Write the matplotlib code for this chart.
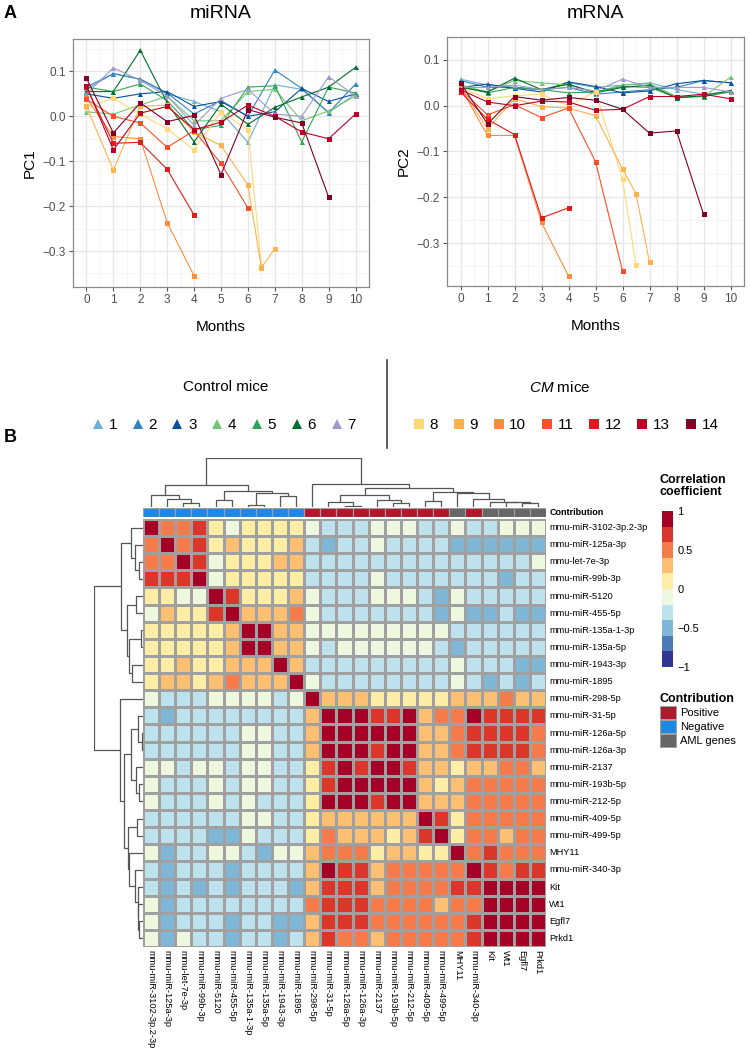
import numpy as np
import matplotlib
matplotlib.use('Agg')
from matplotlib import pyplot as plt
from matplotlib.colors import BoundaryNorm
from matplotlib.lines import Line2D
from matplotlib.patches import Patch

plt.rcParams['font.family'] = ['Liberation Sans', 'DejaVu Sans']
plt.rcParams['mathtext.fontset'] = 'custom'
plt.rcParams['mathtext.it'] = 'Liberation Sans:italic'
plt.rcParams['mathtext.rm'] = 'Liberation Sans'

W, H = 750, 1050  # figure size in px (dpi 100)

# ---------------- panel A data ----------------
mouse_ids = ['1', '2', '3', '4', '5', '6', '7', '8', '9', '10', '11', '12', '13', '14']
mouse_colors = ['#6BAED6', '#3182BD', '#08519C', '#74C476', '#31A354', '#006D2C', '#9E9AC8',
                '#FED976', '#FEB24C', '#FD8D3C', '#FC4E2A', '#E31A1C', '#BD0026', '#800026']
n_control = 7

m11 = [0, 1, 2, 3, 4, 5, 6, 7, 8, 9, 10]
mirna_months = [m11] * 7 + [
    [0, 1, 2, 3, 4, 5, 6, 6.5],
    [0, 1, 2, 3, 4, 5, 6, 6.5, 7],
    [0, 1, 2, 3, 4],
    [0, 1, 2, 3, 4, 5, 6],
    [0, 1, 2, 3, 4],
    m11,
    [0, 1, 2, 3, 4, 5, 6, 7, 8, 9],
]
mirna_pc1 = [
    [0.060, 0.095, 0.082, 0.050, 0.033, 0.010, -0.058, 0.070, 0.060, 0.008, 0.050],
    [0.065, 0.095, 0.083, 0.052, 0.005, 0.035, 0.000, 0.103, 0.062, 0.008, 0.072],
    [0.050, 0.040, 0.050, 0.055, 0.022, 0.033, 0.000, 0.010, 0.062, 0.033, 0.050],
    [0.010, 0.005, 0.025, 0.045, -0.010, -0.010, 0.055, 0.060, -0.010, 0.012, 0.045],
    [0.065, 0.055, 0.072, 0.035, -0.030, -0.020, 0.065, 0.068, -0.057, 0.065, 0.052],
    [0.055, 0.055, 0.147, 0.030, -0.057, 0.027, -0.018, 0.020, 0.043, 0.065, 0.109],
    [0.050, 0.108, 0.080, 0.045, -0.020, 0.040, 0.060, 0.005, 0.000, 0.088, 0.045],
    [0.020, 0.040, 0.005, -0.028, -0.075, 0.010, -0.030, -0.333],
    [0.022, -0.120, 0.022, 0.025, -0.035, -0.065, -0.153, -0.337, -0.295],
    [0.040, -0.045, -0.050, -0.237, -0.355],
    [0.038, 0.000, -0.015, -0.069, -0.032, -0.105, -0.204],
    [0.065, -0.060, -0.058, -0.118, -0.220],
    [0.068, -0.075, 0.007, 0.022, -0.030, -0.013, 0.025, 0.000, -0.035, -0.050, 0.005],
    [0.085, -0.037, 0.030, -0.012, 0.002, -0.130, 0.015, -0.002, -0.015, -0.180],
]
mrna_months = mirna_months
mrna_pc2 = [
    [0.058, 0.045, 0.040, 0.035, 0.050, 0.040, 0.045, 0.050, 0.035, 0.025, 0.030],
    [0.055, 0.040, 0.040, 0.035, 0.040, 0.025, 0.030, 0.035, 0.040, 0.055, 0.050],
    [0.040, 0.047, 0.038, 0.030, 0.052, 0.042, 0.028, 0.032, 0.048, 0.055, 0.050],
    [0.045, 0.030, 0.055, 0.050, 0.045, 0.030, 0.045, 0.048, 0.020, 0.020, 0.062],
    [0.042, 0.028, 0.040, 0.035, 0.028, 0.030, 0.042, 0.040, 0.018, 0.020, 0.030],
    [0.040, 0.030, 0.060, 0.035, 0.047, 0.028, 0.040, 0.045, 0.017, 0.022, 0.033],
    [0.040, 0.040, 0.045, 0.035, 0.040, 0.032, 0.058, 0.040, 0.040, 0.040, 0.030],
    [0.040, 0.015, 0.022, 0.025, 0.000, 0.030, -0.160, -0.348],
    [0.038, -0.050, 0.015, -0.002, -0.005, -0.022, -0.138, -0.192, -0.342],
    [0.040, -0.065, -0.065, -0.255, -0.372],
    [0.035, -0.020, 0.002, -0.026, -0.005, -0.122, -0.360],
    [0.030, -0.030, -0.063, -0.245, -0.223],
    [0.035, 0.008, 0.000, 0.010, 0.008, -0.010, -0.008, 0.020, 0.020, 0.025, 0.015],
    [0.050, -0.040, 0.020, 0.012, 0.018, 0.012, -0.008, -0.060, -0.055, -0.237],
]

# ---------------- panel B data ----------------
features = ['mmu-miR-3102-3p.2-3p', 'mmu-miR-125a-3p', 'mmu-let-7e-3p', 'mmu-miR-99b-3p',
            'mmu-miR-5120', 'mmu-miR-455-5p', 'mmu-miR-135a-1-3p', 'mmu-miR-135a-5p',
            'mmu-miR-1943-3p', 'mmu-miR-1895', 'mmu-miR-298-5p', 'mmu-miR-31-5p',
            'mmu-miR-126a-5p', 'mmu-miR-126a-3p', 'mmu-miR-2137', 'mmu-miR-193b-5p',
            'mmu-miR-212-5p', 'mmu-miR-409-5p', 'mmu-miR-499-5p', 'MHY11', 'mmu-miR-340-3p',
            'Kit', 'Wt1', 'Egfl7', 'Prkd1']
contribution = ['Negative'] * 10 + ['Positive'] * 9 + ['AML genes', 'Positive'] + ['AML genes'] * 4
contrib_colors = {'Positive': '#B2182B', 'Negative': '#1E88E5', 'AML genes': '#666666'}

corr = [
    [1.0, .5, .5, .7, .1, -.1, .1, .1, .1, .1, -.1, -.3, -.3, -.3, -.1, -.1, -.1, -.3, -.3, -.1, -.3, -.3, -.1, -.1, -.1],
    [.5, 1.0, .5, .7, .1, .3, .1, .1, .1, .3, -.3, -.5, -.3, -.3, -.1, -.3, -.3, -.3, -.3, -.5, -.5, -.5, -.5, -.5, -.5],
    [.5, .5, 1.0, .7, -.1, .1, .1, .1, .3, .3, -.3, -.3, -.3, -.3, -.3, -.3, -.3, -.3, -.3, -.3, -.3, -.3, -.3, -.3, -.1],
    [.7, .7, .7, 1.0, -.1, .1, .1, .1, .1, .1, -.3, -.3, -.3, -.3, -.1, -.3, -.3, -.3, -.3, -.3, -.3, -.3, -.5, -.3, -.3],
    [.1, .1, -.1, -.1, 1.0, .7, .1, .1, .1, .3, -.1, -.3, -.3, -.3, -.1, -.1, -.1, -.3, -.5, -.1, -.3, -.3, -.3, -.3, -.3],
    [-.1, .3, .1, .1, .7, 1.0, .3, .3, .3, .5, -.1, -.3, -.3, -.3, -.3, -.3, -.3, -.3, -.5, -.1, -.5, -.5, -.3, -.5, -.5],
    [.1, .1, .1, .1, .1, .3, 1.0, .9, .3, .3, -.1, -.1, -.1, -.1, -.1, -.1, -.1, -.1, -.1, -.3, -.3, -.3, -.3, -.3, -.3],
    [.1, .1, .1, .1, .1, .3, .9, 1.0, .3, .3, -.1, -.3, -.1, -.1, -.1, -.1, -.1, -.1, -.3, -.5, -.3, -.3, -.3, -.3, -.3],
    [.1, .1, .3, .1, .1, .3, .3, .3, 1.0, .3, -.3, -.3, -.3, -.3, -.3, -.3, -.3, -.3, -.3, -.1, -.3, -.3, -.3, -.5, -.5],
    [.1, .3, .3, .1, .3, .5, .3, .3, .3, 1.0, -.1, -.3, -.3, -.3, -.3, -.3, -.3, -.3, -.3, -.1, -.3, -.5, -.3, -.5, -.3],
    [-.1, -.3, -.3, -.3, -.1, -.1, -.1, -.1, -.3, -.1, 1.0, .3, .3, .3, .1, .1, .1, .1, .1, .3, .3, .3, .5, .3, .3],
    [-.3, -.5, -.3, -.3, -.3, -.3, -.3, -.3, -.3, -.3, .3, 1.0, .9, .9, .7, .7, .9, .3, .5, .5, .9, .7, .7, .7, .7],
    [-.3, -.3, -.3, -.3, -.3, -.3, -.1, -.1, -.3, -.3, .3, .9, 1.0, .9, .9, .9, .9, .3, .3, .5, .7, .7, .7, .7, .5],
    [-.3, -.3, -.3, -.3, -.3, -.3, -.1, -.1, -.3, -.3, .3, .9, .9, 1.0, .7, .9, .9, .3, .3, .5, .7, .7, .7, .7, .5],
    [-.1, -.1, -.3, -.1, -.1, -.3, -.1, -.1, -.3, -.3, .1, .7, .9, .7, 1.0, .9, .7, .3, .3, .1, .3, .3, .5, .5, .3],
    [-.1, -.3, -.3, -.3, -.1, -.3, -.1, -.1, -.3, -.3, .1, .7, .9, .9, .9, 1.0, .9, .3, .1, .3, .5, .5, .5, .5, .5],
    [-.1, -.3, -.3, -.3, -.1, -.3, -.1, -.3, -.3, -.3, .1, .9, .9, .9, .7, .9, 1.0, .3, .3, .3, .5, .5, .5, .5, .5],
    [-.3, -.3, -.3, -.3, -.3, -.3, -.1, -.1, -.3, -.3, .1, .3, .3, .3, .3, .3, .3, 1.0, .7, .1, .5, .5, .5, .5, .5],
    [-.3, -.3, -.3, -.3, -.5, -.5, -.1, -.3, -.3, -.3, .1, .5, .3, .3, .3, .1, .3, .7, 1.0, .1, .5, .5, .3, .5, .5],
    [-.1, -.5, -.3, -.3, -.1, -.1, -.3, -.5, -.1, -.1, .3, .5, .5, .5, .1, .3, .3, .1, .1, 1.0, .5, .7, .5, .5, .5],
    [-.3, -.5, -.3, -.3, -.3, -.5, -.3, -.3, -.3, -.3, .3, .9, .7, .7, .3, .5, .5, .5, .5, .5, 1.0, .7, .5, .7, .7],
    [-.3, -.5, -.3, -.5, -.3, -.5, -.3, -.3, -.3, -.5, .3, .7, .7, .7, .3, .5, .5, .5, .5, .7, .7, 1.0, .9, .9, .9],
    [-.1, -.5, -.3, -.3, -.3, -.3, -.3, -.3, -.3, -.3, .5, .7, .7, .7, .5, .5, .5, .5, .3, .5, .5, .9, 1.0, .9, .9],
    [-.1, -.5, -.3, -.3, -.3, -.5, -.3, -.3, -.5, -.5, .3, .7, .7, .7, .5, .5, .5, .5, .5, .5, .7, .9, .9, 1.0, .9],
    [-.1, -.5, -.1, -.3, -.3, -.5, -.3, -.3, -.5, -.3, .3, .7, .5, .5, .3, .5, .5, .5, .5, .5, .7, .9, .9, .9, 1.0],
]

# hierarchical clustering (same tree for rows and columns): (node a, node b, height)
# leaves are 0..24 in display order, merged nodes numbered from 25
merges = [
    (12, 13, 0.7), (6, 7, 1.7), (15, 16, 3.7), (23, 24, 3.7), (2, 3, 4.3),
    (11, 25, 4.7), (22, 28, 4.7), (21, 31, 5.3), (17, 18, 6.3), (4, 5, 7.0),
    (14, 27, 7.0), (1, 29, 8.0), (20, 32, 8.0), (8, 9, 11.3), (0, 36, 12.0),
    (30, 35, 12.0), (26, 38, 13.7), (19, 37, 13.7), (33, 42, 15.3), (34, 41, 16.3),
    (40, 43, 19.3), (39, 44, 22.0), (10, 45, 23.0), (46, 47, 48.7),
]


def box(x0, y0, x1, y1):
    # pixel box (origin top-left) -> figure rect
    return [x0 / W, 1 - y1 / H, (x1 - x0) / W, (y1 - y0) / H]


def pc_panel(rect, title, ylab, xs, ys):
    ax = fig.add_axes(rect)
    for i in range(len(ys)):
        mk = '^' if i < n_control else 's'
        ax.plot(xs[i], ys[i], color=mouse_colors[i], lw=0.8, marker=mk, ms=3.6, mew=0)
    allv = np.concatenate([np.array(v) for v in ys])
    lo, hi = allv.min(), allv.max()
    pad = 0.05 * (hi - lo)
    ax.set_ylim(lo - pad, hi + pad)
    ax.set_xlim(-0.5, 10.5)
    ax.set_xticks(range(11))
    ax.set_xticks(np.arange(0.5, 10, 1), minor=True)
    ax.set_yticks(np.arange(-0.3, 0.11, 0.1))
    ax.set_yticks(np.arange(-0.35, 0.16, 0.1), minor=True)
    ax.grid(which='major', color='#E6E6E6', lw=0.9)
    ax.grid(which='minor', color='#F2F2F2', lw=0.5)
    ax.set_axisbelow(True)
    for s in ax.spines.values():
        s.set_color('#8A8A8A')
        s.set_linewidth(0.9)
    ax.tick_params(which='major', length=3, color='#555555', labelcolor='#4D4D4D', labelsize=8.5, pad=2)
    ax.tick_params(which='minor', length=0)
    ax.set_xlabel('Months', fontsize=11, labelpad=10)
    ax.set_ylabel(ylab, fontsize=11, labelpad=4)
    pos = ax.get_position()
    fig.text(pos.x0 + pos.width / 2, 1 - 13 / H, title, ha='center', va='center', fontsize=14)
    return ax


def dendro_lines(n):
    pos = {i: (i + 0.5, 0.0) for i in range(n)}
    segs = []
    for k, (a, b, h) in enumerate(merges):
        xa, ha = pos[a]
        xb, hb = pos[b]
        segs.append(([xa, xa, xb, xb], [ha, h, h, hb]))
        pos[n + k] = ((xa + xb) / 2, h)
    return segs


fig = plt.figure(figsize=(W / 100, H / 100), dpi=100)

# ---------------- A ----------------
fig.text(4 / W, 1 - 13 / H, 'A', fontsize=13, fontweight='bold', va='center')
pc_panel(box(73, 39, 369, 287), 'miRNA', 'PC1', mirna_months, mirna_pc1)
pc_panel(box(447, 37, 744, 286), 'mRNA', 'PC2', mrna_months, mrna_pc2)

ctrl_h = [Line2D([], [], ls='none', marker='^', ms=7.5, color=c, mew=0) for c in mouse_colors[:n_control]]
cm_h = [Line2D([], [], ls='none', marker='s', ms=7.5, color=c, mew=0) for c in mouse_colors[n_control:]]
leg_kw = dict(ncol=7, loc='center', frameon=False, fontsize=11, handlelength=0.7,
              handletextpad=0.35, columnspacing=1.0, borderpad=0, borderaxespad=0)
fig.legend(ctrl_h, mouse_ids[:n_control], bbox_to_anchor=(224 / W, 1 - 425 / H), **leg_kw)
fig.legend(cm_h, mouse_ids[n_control:], bbox_to_anchor=(566 / W, 1 - 425 / H), **leg_kw)
fig.text(226 / W, 1 - 387 / H, 'Control mice', ha='center', va='center', fontsize=11)
fig.text(560 / W, 1 - 387 / H, r'$\mathit{CM}$ mice', ha='center', va='center', fontsize=11)
fig.add_artist(Line2D([387 / W, 387 / W], [1 - 360 / H, 1 - 448 / H], color='#444444', lw=1.2,
                      transform=fig.transFigure))

# ---------------- B ----------------
fig.text(4 / W, 1 - 438 / H, 'B', fontsize=13, fontweight='bold', va='center')
n = len(features)
cmap = matplotlib.colormaps['RdYlBu_r'].resampled(10)
cmap = cmap.with_extremes(over=cmap(9), under=cmap(0))
norm = BoundaryNorm(np.linspace(-1, 1, 11), 10)

hm = fig.add_axes(box(143, 519, 546, 947))
mesh = hm.pcolormesh(np.array(corr), cmap=cmap, norm=norm, edgecolors='#A0A0A0', linewidth=0.8)
hm.set_xlim(0, n)
hm.set_ylim(n, 0)
hm.axis('off')
for i, name in enumerate(features):
    hm.text(n + 0.2, i + 0.5, name, ha='left', va='center', fontsize=6.7, clip_on=False)
    hm.text(i + 0.5, n + 0.2, name, ha='center', va='top', rotation=270, fontsize=6.7, clip_on=False)

# contribution annotation bar
an = fig.add_axes(box(143, 508, 546, 517))
an.bar(np.arange(n), 1, width=1, align='edge', color=[contrib_colors[c] for c in contribution],
       edgecolor='#A0A0A0', linewidth=0.8)
an.set_xlim(0, n)
an.set_ylim(0, 1)
an.axis('off')
an.text(n + 0.2, 0.5, 'Contribution', ha='left', va='center', fontsize=6.5, fontweight='bold')

# dendrograms
segs = dendro_lines(n)
top_h = max(m[2] for m in merges)
cd = fig.add_axes(box(143, 458, 546, 507))
rd = fig.add_axes(box(94, 519, 143, 947))
for xs_, hs_ in segs:
    cd.plot(xs_, hs_, color='#555555', lw=0.9, solid_capstyle='butt')
    rd.plot(hs_, xs_, color='#555555', lw=0.9, solid_capstyle='butt')
cd.set_xlim(0, n)
cd.set_ylim(0, top_h)
cd.axis('off')
rd.set_ylim(n, 0)
rd.set_xlim(top_h, 0)
rd.axis('off')

# colour legend
cax = fig.add_axes(box(662, 511, 673, 667))
cb = fig.colorbar(mesh, cax=cax, ticks=[-1, -0.5, 0, 0.5, 1])
cb.set_ticklabels(['\u22121', '\u22120.5', '0', '0.5', '1'])
cb.outline.set_visible(False)
cax.minorticks_off()
cax.tick_params(which='both', length=0, labelsize=8, pad=3)
fig.text(660 / W, 1 - 474 / H, 'Correlation\ncoefficient', ha='left', va='top', fontsize=9,
         fontweight='bold', linespacing=1.05)

contrib_h = [Patch(facecolor=contrib_colors[k], edgecolor='#A0A0A0', lw=0.7) for k in contrib_colors]
fig.legend(contrib_h, list(contrib_colors), title='Contribution', loc='upper left',
           bbox_to_anchor=(660 / W, 1 - 693 / H), frameon=False, fontsize=8,
           title_fontproperties={'weight': 'bold', 'size': 9}, alignment='left',
           handlelength=1.4, handleheight=1.4, handletextpad=0.4, labelspacing=0.1,
           borderpad=0, borderaxespad=0)

fig.savefig('out.png', dpi=100)
